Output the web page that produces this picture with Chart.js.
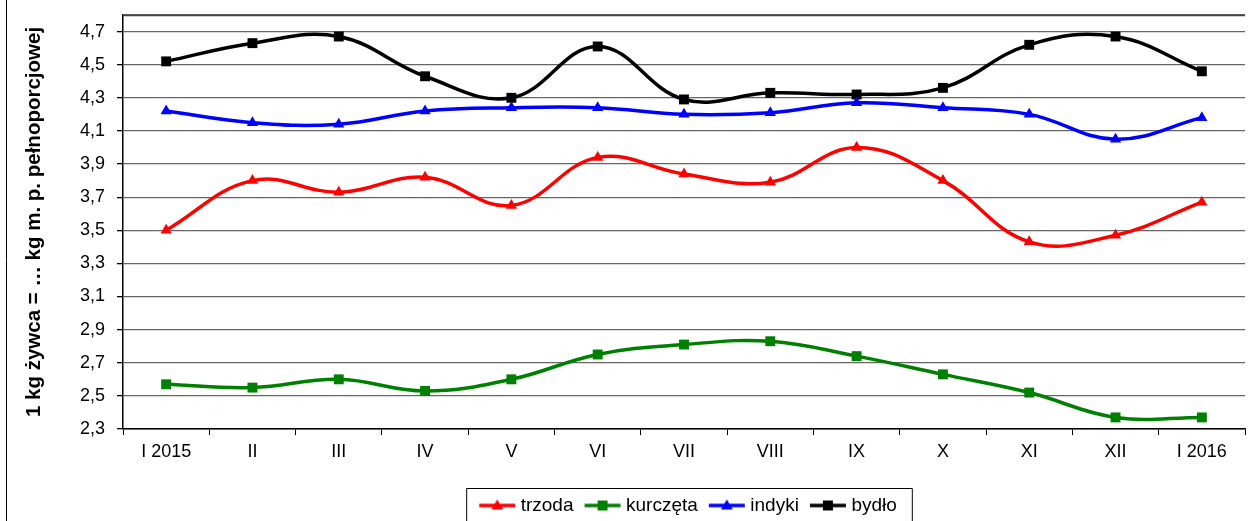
<!DOCTYPE html>
<html>
<head>
<meta charset="utf-8">
<script src="https://cdn.jsdelivr.net/npm/chart.js@4.4.1/dist/chart.umd.min.js"></script>
<style>
  html, body { margin: 0; padding: 0; background: #fff; }
  #wrap { width: 1252px; height: 521px; position: relative; }
</style>
</head>
<body>
<div id="wrap"><canvas id="chart" width="1252" height="521"></canvas></div>
<script>
const months = ["I 2015", "II", "III", "IV", "V", "VI", "VII", "VIII", "IX", "X", "XI", "XII", "I 2016"];
const trzoda = [3.50, 3.80, 3.73, 3.82, 3.65, 3.94, 3.84, 3.79, 4.00, 3.80, 3.43, 3.47, 3.67];
const kurczeta = [2.57, 2.55, 2.60, 2.53, 2.60, 2.75, 2.81, 2.83, 2.74, 2.63, 2.52, 2.37, 2.37];
const indyki = [4.22, 4.15, 4.14, 4.22, 4.24, 4.24, 4.20, 4.21, 4.27, 4.24, 4.20, 4.05, 4.18];
const bydlo = [4.52, 4.63, 4.67, 4.43, 4.30, 4.61, 4.29, 4.33, 4.32, 4.36, 4.62, 4.67, 4.46];
const yTicks = [2.3, 2.5, 2.7, 2.9, 3.1, 3.3, 3.5, 3.7, 3.9, 4.1, 4.3, 4.5, 4.7];
const yTitle = "1 kg żywca = … kg m. p. pełnoporcjowej";

const FONT = "'Liberation Sans', Arial, sans-serif";
const ICON_W = 38;
const ICON_BOX = 28;
const LEGEND_SHIFT = 64;
const LEGEND_DROP = 4;

// small line+marker picture for the legend
function legendIcon(color, shape) {
    const c = document.createElement("canvas");
    c.width = ICON_W; c.height = 14;
    const g = c.getContext("2d");
    g.strokeStyle = color;
    g.lineWidth = 3.5;
    g.beginPath(); g.moveTo(1, 7); g.lineTo(ICON_W - 1, 7); g.stroke();
    g.fillStyle = color;
    if (shape === "rect") {
        g.fillRect(14, 2, 10, 10);
    } else {
        g.beginPath(); g.moveTo(19, 1); g.lineTo(25, 11); g.lineTo(13, 11); g.closePath(); g.fill();
    }
    return c;
}

function series(label, data, color, shape) {
    return {
        label: label,
        data: data,
        borderColor: color,
        backgroundColor: color,
        borderWidth: 3.5,
        tension: 0.4,
        pointStyle: shape === "rect" ? "rect" : "triangle",
        pointRadius: shape === "rect" ? 7 : 6.5,
        pointBorderWidth: 0,
        legendIcon: legendIcon(color, shape)
    };
}

const framePlugin = {
    id: "frame",
    afterLayout(chart) {
        // Excel put the legend a bit right of centre and lower
        const lg = chart.legend;
        lg.left += LEGEND_SHIFT;
        lg.right += LEGEND_SHIFT;
        lg.top += LEGEND_DROP;
        lg.bottom += LEGEND_DROP;
    },
    afterDraw(chart) {
        const ctx = chart.ctx;
        const a = chart.chartArea;
        ctx.save();
        // top edge of plot
        ctx.strokeStyle = "#444";
        ctx.lineWidth = 1.3;
        ctx.beginPath(); ctx.moveTo(a.left, a.top + 0.5); ctx.lineTo(a.right, a.top + 0.5); ctx.stroke();
        // outer frame on the left
        ctx.strokeStyle = "#000";
        ctx.lineWidth = 1;
        ctx.beginPath(); ctx.moveTo(6.5, 0); ctx.lineTo(6.5, chart.height); ctx.stroke();
        // legend box
        const boxes = chart.legend.legendHitBoxes;
        if (boxes && boxes.length) {
            const l = Math.min(...boxes.map(b => b.left)) - 5 - 12;
            const r = Math.max(...boxes.map(b => b.left + b.width)) + 15;
            const t = Math.min(...boxes.map(b => b.top)) - 8;
            ctx.beginPath();
            ctx.moveTo(l + 0.5, chart.height);
            ctx.lineTo(l + 0.5, t + 0.5);
            ctx.lineTo(r + 0.5, t + 0.5);
            ctx.lineTo(r + 0.5, chart.height);
            ctx.stroke();
        }
        ctx.restore();
    }
};

new Chart(document.getElementById("chart").getContext("2d"), {
    type: "line",
    data: {
        labels: months,
        datasets: [
            series("trzoda", trzoda, "#ff0000", "tri"),
            series("kurczęta", kurczeta, "#008000", "rect"),
            series("indyki", indyki, "#0000ff", "tri"),
            series("bydło", bydlo, "#000000", "rect")
        ]
    },
    options: {
        responsive: false,
        animation: false,
        layout: { padding: { top: 15, left: 0, right: 0, bottom: 0 } },
        plugins: {
            tooltip: { enabled: false },
            legend: {
                position: "bottom",
                labels: {
                    usePointStyle: true,
                    pointStyleWidth: ICON_BOX,
                    padding: 15,
                    color: "#000",
                    font: { family: FONT, size: 19 },
                    generateLabels(chart) {
                        return chart.data.datasets.map((ds, i) => ({
                            text: ds.label,
                            pointStyle: ds.legendIcon,
                            fillStyle: ds.borderColor,
                            strokeStyle: ds.borderColor,
                            lineWidth: 0,
                            datasetIndex: i
                        }));
                    }
                }
            }
        },
        scales: {
            x: {
                offset: true,
                grid: { offset: true, drawOnChartArea: false, color: "#000", tickLength: 6 },
                border: { color: "#000", width: 1.5 },
                ticks: { color: "#000", font: { family: FONT, size: 18 }, maxRotation: 0, padding: 6 },
                afterFit(scale) { scale.height = 48; }
            },
            y: {
                min: 2.3,
                max: 4.8,
                afterBuildTicks(scale) {
                    scale.ticks = yTicks.concat([4.8]).map(v => ({ value: v }));
                },
                grid: {
                    color: "#666",
                    lineWidth: 1.3,
                    tickLength: 6,
                    tickColor: ctx => (ctx.tick && ctx.tick.value > 4.75 ? "rgba(0,0,0,0)" : "#000")
                },
                border: { color: "#000", width: 1.5 },
                ticks: {
                    color: "#000",
                    font: { family: FONT, size: 18 },
                    padding: 12,
                    callback: v => (v > 4.75 ? "" : v.toFixed(1).replace(".", ","))
                },
                title: {
                    display: true,
                    text: yTitle,
                    color: "#000",
                    font: { family: FONT, size: 20.5, weight: "bold" },
                    padding: { top: 22, bottom: 0 }
                },
                afterFit(scale) {
                    scale.width = 123;
                    scale.paddingTop = 0;
                    scale.paddingBottom = 0;
                }
            }
        }
    },
    plugins: [framePlugin]
});
</script>
</body>
</html>
